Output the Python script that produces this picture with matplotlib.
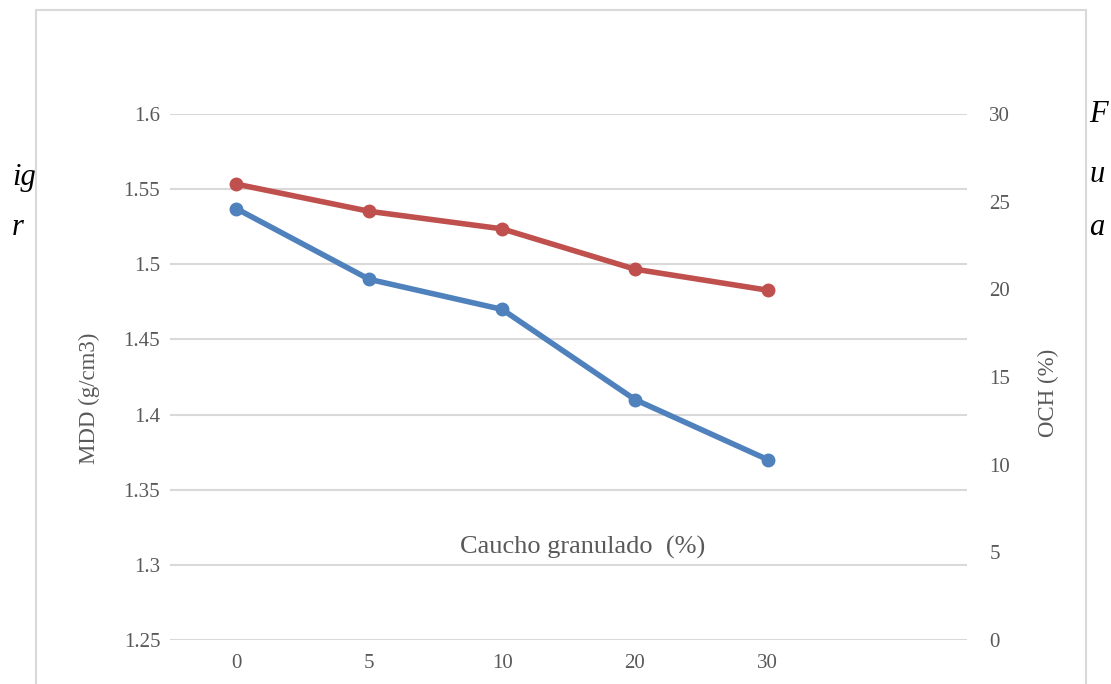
import matplotlib.pyplot as plt
from matplotlib.patches import Rectangle

# data
categories = ['0', '5', '10', '20', '30']
mdd = [1.537, 1.49, 1.47, 1.41, 1.37]
och = [26.0, 24.45, 23.45, 21.15, 19.95]
left_ticks = [1.25, 1.3, 1.35, 1.4, 1.45, 1.5, 1.55, 1.6]
left_labels = ['1.25', '1.3', '1.35', '1.4', '1.45', '1.5', '1.55', '1.6']
right_ticks = [0, 5, 10, 15, 20, 25, 30]

blue = '#4F81BD'
red = '#C0504D'
grey = '#595959'
plt.rcParams['font.family'] = ['Liberation Serif', 'DejaVu Serif']

fig = plt.figure(figsize=(11.11, 6.84), dpi=100)
# outer chart frame
fig.patches.append(Rectangle((36 / 1111, -0.1), 1050 / 1111, 1.1 - 10 / 684,
                             transform=fig.transFigure, fill=False,
                             edgecolor='#D9D9D9', linewidth=1.5))

ax = fig.add_axes([170 / 1111, 1 - 640 / 684, 797 / 1111, 526 / 684])
ax2 = ax.twinx()

x = list(range(len(categories)))
ax.plot(x, mdd, color=blue, lw=4, marker='o', ms=9, zorder=3)
ax2.plot(x, och, color=red, lw=4, marker='o', ms=9, zorder=3)

ax.set_xlim(-0.5, 5.5)
ax.set_ylim(1.25, 1.6)
ax2.set_ylim(0, 30)
ax.set_xticks(x)
ax.set_xticklabels(categories)
ax.set_yticks(left_ticks)
ax.set_yticklabels(left_labels)
ax2.set_yticks(right_ticks)

ax.grid(axis='y', color='#D9D9D9', lw=1.5)
ax.set_axisbelow(True)
for a in (ax, ax2):
    for s in a.spines.values():
        s.set_visible(False)
    a.tick_params(length=0, labelsize=15, labelcolor=grey)
ax.tick_params(axis='y', pad=7)
ax.tick_params(axis='x', pad=10)
ax2.tick_params(axis='y', pad=16)

ax.set_ylabel('MDD (g/cm3)', fontsize=16.5, color=grey)
ax.yaxis.set_label_coords(-70 / 797, 0.46)
ax2.set_ylabel('OCH (%)', fontsize=16.5, color=grey)
ax2.yaxis.set_label_coords(1 + 71 / 797, 0.47)
ax.text(0.518, 0.175, 'Caucho granulado  (%)', transform=ax.transAxes,
        ha='center', va='center', fontsize=19, color=grey)

# caption fragments showing at the edges
for t, yy in [('ig', 177), ('r', 228)]:
    fig.text(12 / 1111, 1 - yy / 684, t, fontsize=22, style='italic',
             ha='left', va='center')
for t, yy in [('F', 115), ('u', 174), ('a', 228)]:
    fig.text(1089 / 1111, 1 - yy / 684, t, fontsize=22, style='italic',
             ha='left', va='center')

fig.savefig('out.png', dpi=100)
